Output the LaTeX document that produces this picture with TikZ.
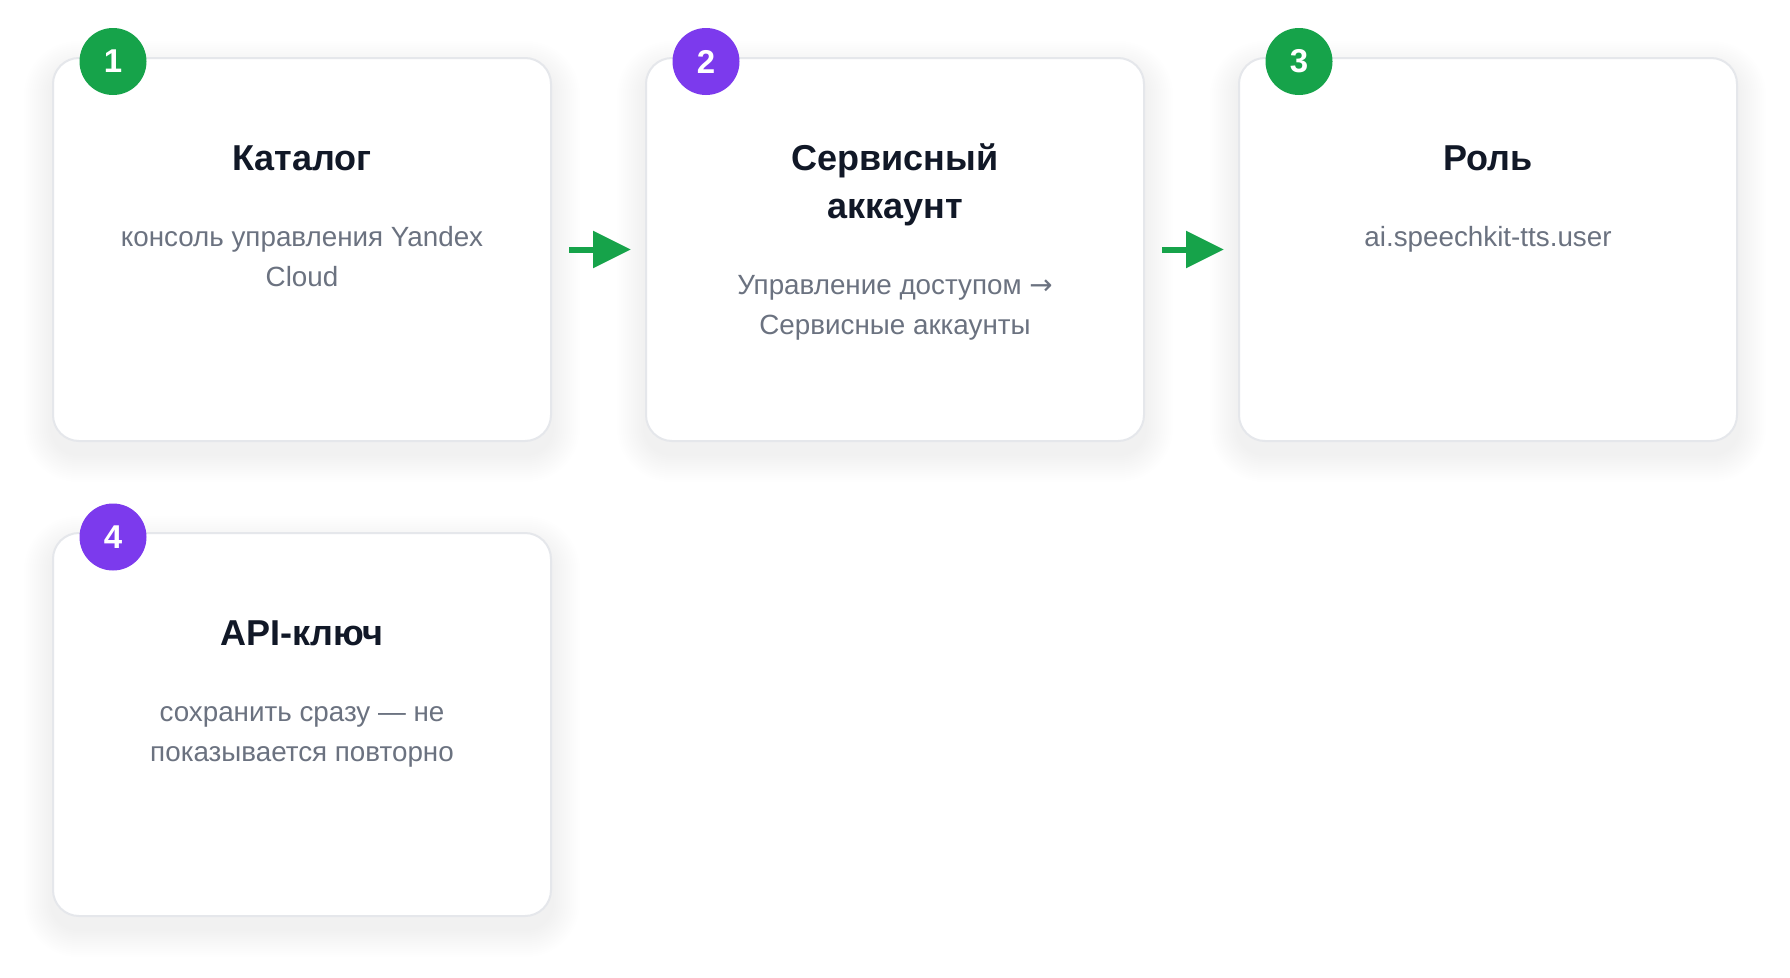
\documentclass[tikz,border=0pt]{standalone}
\usepackage{fontspec}
\setmainfont{Liberation Sans}
\newfontfamily\arrowfont{DejaVu Sans}
\usetikzlibrary{arrows.meta,backgrounds}
\definecolor{stepgreen}{HTML}{16A34A}
\definecolor{steppurple}{HTML}{7C3AED}
\definecolor{titlecol}{HTML}{111827}
\definecolor{desccol}{HTML}{6B7280}
\definecolor{bordercol}{HTML}{E5E7EB}
\definecolor{shadowcol}{HTML}{2A2F55}
\tikzset{
  card/.style={rectangle, rounded corners=26pt, minimum width=498pt, minimum height=383pt,
    draw=bordercol, line width=2pt, fill=white, inner sep=0pt},
  badge/.style={circle, minimum size=67pt, inner sep=0pt, text=white,
    font=\fontsize{33}{33}\selectfont\bfseries},
  ttl/.style={anchor=base, inner sep=0pt, text=titlecol, font=\fontsize{36}{42}\selectfont\bfseries},
  desc/.style={anchor=base, inner sep=0pt, text=desccol, font=\fontsize{27.8}{40}\selectfont},
  flow/.style={draw=stepgreen, line width=6pt, -{Triangle[length=38pt,width=36pt]}}
}
\begin{document}
\begin{tikzpicture}[x=1pt,y=-1pt]
\useasboundingbox (0,0) rectangle (1790,977);

% cards
\node[card] (c1) at (302,249.5) {};
\node[card] (c2) at (895,249.5) {};
\node[card] (c3) at (1488,249.5) {};
\node[card] (c4) at (302,724.5) {};

% page background and soft shadows
\begin{scope}[on background layer]
\fill[white] (0,0) rectangle (1790,977);
\foreach \c in {c1,c2,c3,c4}{
  \foreach \i in {2,4,...,28}{
    \fill[shadowcol, opacity=0.0032, rounded corners=26pt+\i pt]
      ([shift={(-\i,\i+12)}]\c.south west) rectangle ([shift={(\i,-\i+12)}]\c.north east);
  }
}
\end{scope}

% badges
\node[badge, fill=stepgreen]  (b1) at (113,61.5) {1};
\node[badge, fill=steppurple] (b2) at (706,61.5) {2};
\node[badge, fill=stepgreen]  (b3) at (1299,61.5) {3};
\node[badge, fill=steppurple] (b4) at (113,537) {4};

% card 1
\node[ttl]  (t1)  at (302,170) {Каталог};
\node[desc] (d1a) at (302,246) {консоль управления Yandex};
\node[desc] (d1b) at (302,286) {Cloud};

% card 2
\node[ttl]  (t2a) at (895,170) {Сервисный};
\node[ttl]  (t2b) at (895,218) {аккаунт};
\node[desc] (d2a) at (895,294) {Управление доступом {\arrowfont →}};
\node[desc] (d2b) at (895,334) {Сервисные аккаунты};

% card 3
\node[ttl]  (t3)  at (1488,170) {Роль};
\node[desc] (d3)  at (1488,246) {ai.speechkit-tts.user};

% card 4
\node[ttl]  (t4)  at (302,645) {API-ключ};
\node[desc] (d4a) at (302,721) {сохранить сразу — не};
\node[desc] (d4b) at (302,761) {показывается повторно};

% arrows
\draw[flow] ([xshift=17pt]c1.east) -- ([xshift=-14pt]c2.west);
\draw[flow] ([xshift=17pt]c2.east) -- ([xshift=-14pt]c3.west);
\end{tikzpicture}
\end{document}
